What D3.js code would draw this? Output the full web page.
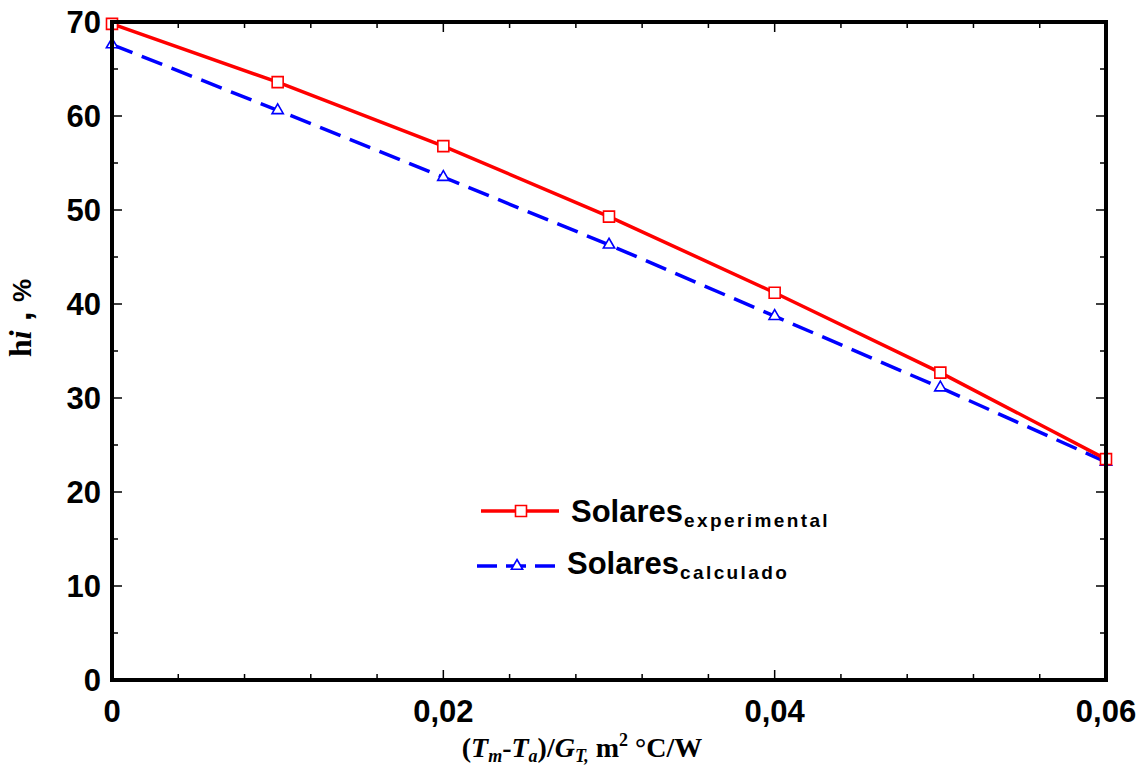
<!DOCTYPE html>
<html><head><meta charset="utf-8">
<script src="https://cdn.jsdelivr.net/npm/d3@7"></script>
<style>body{margin:0;background:#fff}</style>
</head><body>
<svg id="c" width="1145" height="769"></svg>
<script>
const xValues = [0, 0.01, 0.02, 0.03, 0.04, 0.05, 0.06];
const experimental = [69.8, 63.6, 56.8, 49.3, 41.2, 32.7, 23.5];
const calculado = [67.6, 60.6, 53.5, 46.3, 38.7, 31.1, 23.2];
const xTickLabels = ["0", "0,02", "0,04", "0,06"];
const yTickLabels = ["0", "10", "20", "30", "40", "50", "60", "70"];

const svg = d3.select("#c");
const L = 112, R = 1106, T = 22, B = 680;
const x = d3.scaleLinear().domain([0, 0.06]).range([L, R]);
const y = d3.scaleLinear().domain([0, 70]).range([B, T]);

const xMinor = d3.range(0, 0.0601, 0.004);
const xMajor = [0, 0.02, 0.04, 0.06];
const yMinor = d3.range(0, 70.1, 5);
const g = svg.append("g");
function tickLen(v, majors) { return majors.some(m => Math.abs(m - v) < 1e-9) ? 10 : 6; }
xMinor.forEach(v => {
  const len = tickLen(v, xMajor);
  g.append("line").attr("x1", x(v)).attr("x2", x(v)).attr("y1", B).attr("y2", B - len).attr("stroke", "#000").attr("stroke-width", 1.5);
  g.append("line").attr("x1", x(v)).attr("x2", x(v)).attr("y1", T).attr("y2", T + len).attr("stroke", "#000").attr("stroke-width", 1.5);
});
yMinor.forEach(v => {
  const len = (v % 10 === 0) ? 10 : 6;
  g.append("line").attr("x1", L).attr("x2", L + len).attr("y1", y(v)).attr("y2", y(v)).attr("stroke", "#000").attr("stroke-width", 1.5);
  g.append("line").attr("x1", R).attr("x2", R - len).attr("y1", y(v)).attr("y2", y(v)).attr("stroke", "#000").attr("stroke-width", 1.5);
});

const sans = "Liberation Sans, Arial, sans-serif";
xMajor.forEach((v, i) => {
  svg.append("text").attr("x", x(v)).attr("y", 722).attr("text-anchor", "middle")
    .attr("font-family", sans).attr("font-weight", "bold").attr("font-size", 31)
    .text(xTickLabels[i]);
});
yTickLabels.forEach((t, i) => {
  svg.append("text").attr("x", 101).attr("y", y(i * 10)).attr("dy", "0.36em").attr("text-anchor", "end")
    .attr("font-family", sans).attr("font-weight", "bold").attr("font-size", 31)
    .text(t);
});

const line = d3.line().x(d => x(d[0])).y(d => y(d[1]));
const expData = xValues.map((v, i) => [v, experimental[i]]);
const calData = xValues.map((v, i) => [v, calculado[i]]);
svg.append("path").datum(calData).attr("d", line).attr("fill", "none").attr("stroke", "#0000ff").attr("stroke-width", 3.5).attr("stroke-dasharray", "22,10");
svg.append("path").datum(expData).attr("d", line).attr("fill", "none").attr("stroke", "#ff0000").attr("stroke-width", 3.5);

const sq = d3.symbol().type(d3.symbolSquare).size(121);
const tri = d3.symbol().type(d3.symbolTriangle).size(55);
svg.selectAll(".tri").data(calData).enter().append("path").attr("d", tri)
  .attr("transform", d => `translate(${x(d[0])},${y(d[1])})`).attr("fill", "#fff").attr("stroke", "#0000ff").attr("stroke-width", 1.6);
svg.selectAll(".sq").data(expData).enter().append("path").attr("d", sq)
  .attr("transform", d => `translate(${x(d[0])},${y(d[1])})`).attr("fill", "#fff").attr("stroke", "#ff0000").attr("stroke-width", 1.6);

svg.append("rect").attr("x", L).attr("y", T).attr("width", R - L).attr("height", B - T)
  .attr("fill", "none").attr("stroke", "#000").attr("stroke-width", 4);

// legend
svg.append("line").attr("x1", 481).attr("x2", 559).attr("y1", 511).attr("y2", 511).attr("stroke", "#ff0000").attr("stroke-width", 3.5);
svg.append("path").attr("d", sq).attr("transform", "translate(521,511)").attr("fill", "#fff").attr("stroke", "#ff0000").attr("stroke-width", 1.6);
svg.append("line").attr("x1", 477).attr("x2", 556).attr("y1", 566).attr("y2", 566).attr("stroke", "#0000ff").attr("stroke-width", 3.5).attr("stroke-dasharray", "20,9");
svg.append("path").attr("d", tri).attr("transform", "translate(517,566)").attr("fill", "#fff").attr("stroke", "#0000ff").attr("stroke-width", 1.6);

function legendText(xp, yp, sub) {
  const t = svg.append("text").attr("x", xp).attr("y", yp)
    .attr("font-family", sans).attr("font-weight", "bold").attr("font-size", 31);
  t.append("tspan").text("Solares");
  t.append("tspan").attr("font-size", 19).attr("dy", 5).attr("letter-spacing", 2.4).attr("dx", 1).text(sub);
}
legendText(571, 522, "experimental");
legendText(567, 574, "calculado");

const serif = "Liberation Serif, Times New Roman, serif";
const xt = svg.append("text").attr("x", 582).attr("y", 757).attr("text-anchor", "middle")
  .attr("font-family", serif).attr("font-weight", "bold").attr("font-size", 28);
xt.append("tspan").text("(");
xt.append("tspan").attr("font-style", "italic").text("T");
xt.append("tspan").attr("font-style", "italic").attr("font-size", 18).attr("dy", 5).text("m");
xt.append("tspan").attr("dy", -5).text("-");
xt.append("tspan").attr("font-style", "italic").text("T");
xt.append("tspan").attr("font-style", "italic").attr("font-size", 18).attr("dy", 5).text("a");
xt.append("tspan").attr("dy", -5).text(")/");
xt.append("tspan").attr("font-style", "italic").text("G");
xt.append("tspan").attr("font-style", "italic").attr("font-size", 18).attr("dy", 5).text("T,");
xt.append("tspan").attr("dy", -5).text(" m");
xt.append("tspan").attr("font-size", 18).attr("dy", -11).text("2");
xt.append("tspan").attr("dy", 11).text(" °C/W");

const yt = svg.append("text").attr("transform", "translate(31,318) rotate(-90)").attr("text-anchor", "middle")
  .attr("font-family", serif).attr("font-weight", "bold").attr("font-size", 32);
yt.append("tspan").text("h");
yt.append("tspan").attr("font-style", "italic").text("i");
yt.append("tspan").attr("font-family", sans).attr("font-size", 34).text(" , ");
yt.append("tspan").attr("font-family", sans).attr("font-size", 26).text("%");
</script>
</body></html>
